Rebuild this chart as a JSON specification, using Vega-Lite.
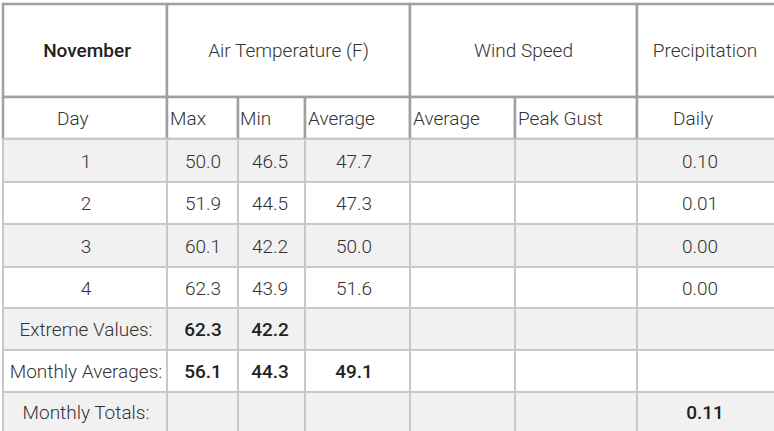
{
  "$schema": "https://vega.github.io/schema/vega-lite/v6.json",
  "width": 774,
  "height": 431,
  "padding": 0,
  "autosize": {"type": "fit", "contains": "padding"},
  "background": "white",
  "config": {"view": {"stroke": null}, "text": {"font": "Roboto", "fontSize": 19, "fontWeight": 300, "fill": "#333"}},
  "datasets": {
    "cells": [
      {"r": 0, "r2": 1, "c": 0, "c2": 1, "text": "November"},
      {"r": 0, "r2": 1, "c": 1, "c2": 4, "text": "Air Temperature (F)"},
      {"r": 0, "r2": 1, "c": 4, "c2": 6, "text": "Wind Speed"},
      {"r": 0, "r2": 1, "c": 6, "c2": 7, "text": "Precipitation"},
      {"r": 1, "r2": 2, "c": 0, "c2": 1, "text": "Day"},
      {"r": 1, "r2": 2, "c": 1, "c2": 2, "text": "Max"},
      {"r": 1, "r2": 2, "c": 2, "c2": 3, "text": "Min"},
      {"r": 1, "r2": 2, "c": 3, "c2": 4, "text": "Average"},
      {"r": 1, "r2": 2, "c": 4, "c2": 5, "text": "Average"},
      {"r": 1, "r2": 2, "c": 5, "c2": 6, "text": "Peak Gust"},
      {"r": 1, "r2": 2, "c": 6, "c2": 7, "text": "Daily"},
      {"r": 2, "r2": 3, "c": 0, "c2": 1, "text": "1"},
      {"r": 2, "r2": 3, "c": 1, "c2": 2, "text": "50.0"},
      {"r": 2, "r2": 3, "c": 2, "c2": 3, "text": "46.5"},
      {"r": 2, "r2": 3, "c": 3, "c2": 4, "text": "47.7"},
      {"r": 2, "r2": 3, "c": 4, "c2": 5, "text": ""},
      {"r": 2, "r2": 3, "c": 5, "c2": 6, "text": ""},
      {"r": 2, "r2": 3, "c": 6, "c2": 7, "text": "0.10"},
      {"r": 3, "r2": 4, "c": 0, "c2": 1, "text": "2"},
      {"r": 3, "r2": 4, "c": 1, "c2": 2, "text": "51.9"},
      {"r": 3, "r2": 4, "c": 2, "c2": 3, "text": "44.5"},
      {"r": 3, "r2": 4, "c": 3, "c2": 4, "text": "47.3"},
      {"r": 3, "r2": 4, "c": 4, "c2": 5, "text": ""},
      {"r": 3, "r2": 4, "c": 5, "c2": 6, "text": ""},
      {"r": 3, "r2": 4, "c": 6, "c2": 7, "text": "0.01"},
      {"r": 4, "r2": 5, "c": 0, "c2": 1, "text": "3"},
      {"r": 4, "r2": 5, "c": 1, "c2": 2, "text": "60.1"},
      {"r": 4, "r2": 5, "c": 2, "c2": 3, "text": "42.2"},
      {"r": 4, "r2": 5, "c": 3, "c2": 4, "text": "50.0"},
      {"r": 4, "r2": 5, "c": 4, "c2": 5, "text": ""},
      {"r": 4, "r2": 5, "c": 5, "c2": 6, "text": ""},
      {"r": 4, "r2": 5, "c": 6, "c2": 7, "text": "0.00"},
      {"r": 5, "r2": 6, "c": 0, "c2": 1, "text": "4"},
      {"r": 5, "r2": 6, "c": 1, "c2": 2, "text": "62.3"},
      {"r": 5, "r2": 6, "c": 2, "c2": 3, "text": "43.9"},
      {"r": 5, "r2": 6, "c": 3, "c2": 4, "text": "51.6"},
      {"r": 5, "r2": 6, "c": 4, "c2": 5, "text": ""},
      {"r": 5, "r2": 6, "c": 5, "c2": 6, "text": ""},
      {"r": 5, "r2": 6, "c": 6, "c2": 7, "text": "0.00"},
      {"r": 6, "r2": 7, "c": 0, "c2": 1, "text": "Extreme Values:"},
      {"r": 6, "r2": 7, "c": 1, "c2": 2, "text": "62.3"},
      {"r": 6, "r2": 7, "c": 2, "c2": 3, "text": "42.2"},
      {"r": 6, "r2": 7, "c": 3, "c2": 4, "text": ""},
      {"r": 6, "r2": 7, "c": 4, "c2": 5, "text": ""},
      {"r": 6, "r2": 7, "c": 5, "c2": 6, "text": ""},
      {"r": 6, "r2": 7, "c": 6, "c2": 7, "text": ""},
      {"r": 7, "r2": 8, "c": 0, "c2": 1, "text": "Monthly Averages:"},
      {"r": 7, "r2": 8, "c": 1, "c2": 2, "text": "56.1"},
      {"r": 7, "r2": 8, "c": 2, "c2": 3, "text": "44.3"},
      {"r": 7, "r2": 8, "c": 3, "c2": 4, "text": "49.1"},
      {"r": 7, "r2": 8, "c": 4, "c2": 5, "text": ""},
      {"r": 7, "r2": 8, "c": 5, "c2": 6, "text": ""},
      {"r": 7, "r2": 8, "c": 6, "c2": 7, "text": ""},
      {"r": 8, "r2": 9, "c": 0, "c2": 1, "text": "Monthly Totals:"},
      {"r": 8, "r2": 9, "c": 1, "c2": 2, "text": ""},
      {"r": 8, "r2": 9, "c": 2, "c2": 3, "text": ""},
      {"r": 8, "r2": 9, "c": 3, "c2": 4, "text": ""},
      {"r": 8, "r2": 9, "c": 4, "c2": 5, "text": ""},
      {"r": 8, "r2": 9, "c": 5, "c2": 6, "text": ""},
      {"r": 8, "r2": 9, "c": 6, "c2": 7, "text": "0.11"}
    ]
  },
  "data": {"name": "cells"},
  "layer": [
    {
      "mark": {"type": "rect"},
      "encoding": {
        "x": {"field": "c", "type": "quantitative", "axis": null,
              "scale": {"domain": [0, 1, 2, 3, 4, 5, 6, 7], "range": [3, 167, 238, 305, 410, 515, 637, 778], "nice": false, "zero": false}},
        "x2": {"field": "c2"},
        "y": {"field": "r", "type": "quantitative", "axis": null,
              "scale": {"domain": [0, 1, 2, 3, 4, 5, 6, 7, 8, 9], "range": [4, 97, 139, 182, 224, 267, 308, 350, 392, 436], "nice": false, "zero": false}},
        "y2": {"field": "r2"},
        "fill": {"condition": {"test": "datum.r >= 2 && datum.r % 2 == 0", "value": "#f1f1f1"}, "value": "white"},
        "stroke": {"condition": {"test": "datum.r <= 1", "value": "#a0a0a0"}, "value": "#c8c8c8"},
        "strokeWidth": {"condition": {"test": "datum.r <= 1", "value": 2.5}, "value": 2}
      }
    },
    {
      "transform": [{"filter": "datum.r == 0 && datum.c > 0"}],
      "mark": {"type": "text", "align": "center", "baseline": "middle"},
      "encoding": {
        "x": {"field": "c", "type": "quantitative", "axis": null,
              "scale": {"domain": [1, 4, 6], "range": [288.5, 523.5, 705], "nice": false, "zero": false}},
        "y": {"field": "r", "type": "quantitative", "axis": null,
              "scale": {"domain": [0, 1, 2, 3, 4, 5, 6, 7, 8], "range": [51, 119, 161.5, 204, 246.5, 288.5, 330, 372, 413], "nice": false, "zero": false}},
        "text": {"field": "text"}
      }
    },
    {
      "transform": [{"filter": "datum.r == 0 && datum.c == 0"}],
      "mark": {"type": "text", "align": "center", "baseline": "middle", "fontWeight": 500, "fill": "#222"},
      "encoding": {
        "x": {"field": "c", "type": "quantitative", "axis": null,
              "scale": {"domain": [0, 1], "range": [87, 288.5], "nice": false, "zero": false}},
        "y": {"field": "r", "type": "quantitative", "axis": null,
              "scale": {"domain": [0, 1, 2, 3, 4, 5, 6, 7, 8], "range": [51, 119, 161.5, 204, 246.5, 288.5, 330, 372, 413], "nice": false, "zero": false}},
        "text": {"field": "text"}
      }
    },
    {
      "transform": [{"filter": "datum.r == 1"}],
      "mark": {"type": "text", "align": "left", "baseline": "middle"},
      "encoding": {
        "x": {"field": "c", "type": "quantitative", "axis": null,
              "scale": {"domain": [0, 1, 2, 3, 4, 5, 6], "range": [57, 170, 240, 308, 413, 518, 673], "nice": false, "zero": false}},
        "y": {"field": "r", "type": "quantitative", "axis": null,
              "scale": {"domain": [0, 1, 2, 3, 4, 5, 6, 7, 8], "range": [51, 119, 161.5, 204, 246.5, 288.5, 330, 372, 413], "nice": false, "zero": false}},
        "text": {"field": "text"}
      }
    },
    {
      "transform": [{"filter": "datum.r >= 2 && !(datum.r >= 6 && datum.c >= 1)"}],
      "mark": {"type": "text", "align": "center", "baseline": "middle"},
      "encoding": {
        "x": {"field": "c", "type": "quantitative", "axis": null,
              "scale": {"domain": [0, 1, 2, 3, 4, 5, 6], "range": [86, 203, 270, 354, 462.5, 576, 700], "nice": false, "zero": false}},
        "y": {"field": "r", "type": "quantitative", "axis": null,
              "scale": {"domain": [0, 1, 2, 3, 4, 5, 6, 7, 8], "range": [51, 119, 161.5, 204, 246.5, 288.5, 330, 372, 413], "nice": false, "zero": false}},
        "text": {"field": "text"}
      }
    },
    {
      "transform": [{"filter": "datum.r >= 6 && datum.c >= 1"}],
      "mark": {"type": "text", "align": "center", "baseline": "middle", "fontWeight": 500, "fill": "#222"},
      "encoding": {
        "x": {"field": "c", "type": "quantitative", "axis": null,
              "scale": {"domain": [0, 1, 2, 3, 4, 5, 6], "range": [86, 203, 270, 354, 462.5, 576, 705], "nice": false, "zero": false}},
        "y": {"field": "r", "type": "quantitative", "axis": null,
              "scale": {"domain": [0, 1, 2, 3, 4, 5, 6, 7, 8], "range": [51, 119, 161.5, 204, 246.5, 288.5, 330, 372, 413], "nice": false, "zero": false}},
        "text": {"field": "text"}
      }
    }
  ],
  "resolve": {"scale": {"x": "independent", "y": "independent"}}
}
